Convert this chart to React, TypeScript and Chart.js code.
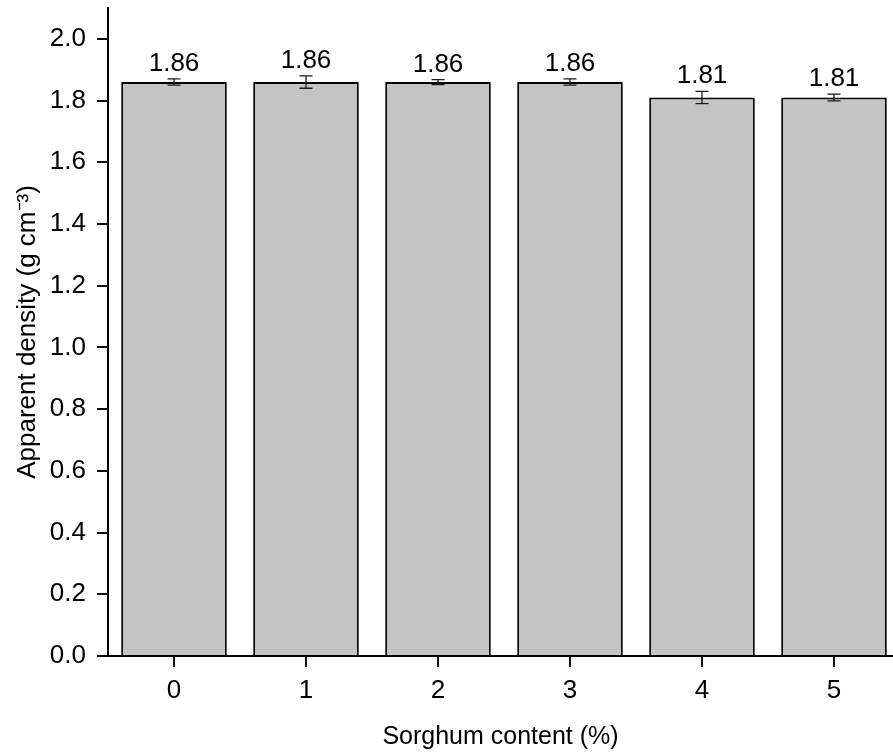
import React, { useEffect, useRef } from "react";
import { Chart, registerables } from "chart.js";

Chart.register(...registerables);

const categories = [0, 1, 2, 3, 4, 5];
const densities = [1.86, 1.86, 1.86, 1.86, 1.81, 1.81];
const errors = [0.01, 0.02, 0.008, 0.01, 0.02, 0.011];
const valueLabels = ["1.86", "1.86", "1.86", "1.86", "1.81", "1.81"];
const yTickValues = [0, 0.2, 0.4, 0.6, 0.8, 1.0, 1.2, 1.4, 1.6, 1.8, 2.0];
const xTitle = "Sorghum content (%)";
const yTitle = "Apparent density (g cm\u207B\u00B3)";

const FONT = '"Liberation Sans", Arial, sans-serif';
const FS = 26;

const errorBarPlugin = {
  id: "errorBars",
  afterDatasetsDraw(chart: any) {
    const meta = chart.getDatasetMeta(0);
    const y = chart.scales.y;
    const ctx = chart.ctx;
    ctx.save();
    meta.data.forEach((bar: any, i: number) => {
      const x = bar.x;
      const top = y.getPixelForValue(densities[i] + errors[i]);
      const bot = y.getPixelForValue(densities[i] - errors[i]);
      ctx.strokeStyle = "#1a1a1a";
      ctx.lineWidth = 1.3;
      ctx.beginPath();
      ctx.moveTo(x, top);
      ctx.lineTo(x, bot);
      ctx.moveTo(x - 6.5, top);
      ctx.lineTo(x + 6.5, top);
      ctx.moveTo(x - 6.5, bot);
      ctx.lineTo(x + 6.5, bot);
      ctx.stroke();
      ctx.font = `${FS}px ${FONT}`;
      ctx.fillStyle = "#000";
      ctx.textAlign = "center";
      ctx.textBaseline = "alphabetic";
      ctx.fillText(valueLabels[i], x, top - 8);
    });
    ctx.restore();
  },
};

export default function App() {
  const canvasRef = useRef<HTMLCanvasElement | null>(null);

  useEffect(() => {
    if (!canvasRef.current) return;
    const chart = new Chart(canvasRef.current, {
      type: "bar",
      data: {
        datasets: [
          {
            data: categories.map((c, i) => ({ x: c, y: densities[i] })),
            backgroundColor: "#c4c4c4",
            borderColor: "#000",
            borderWidth: 2,
            barPercentage: 0.8,
            categoryPercentage: 1,
          },
        ],
      },
      options: {
        animation: false,
        responsive: false,
        maintainAspectRatio: false,
        layout: { padding: { top: 8, right: 0, left: 0, bottom: 0 } },
        plugins: {
          legend: { display: false },
          tooltip: { enabled: false },
        },
        scales: {
          x: {
            type: "linear",
            offset: false,
            min: -0.5,
            max: 5.447,
            afterBuildTicks: (scale: any) => {
              scale.ticks = categories.map((v) => ({ value: v }));
            },
            afterFit: (scale: any) => {
              scale.height = 98;
              scale.paddingLeft = 0;
              scale.paddingRight = 0;
            },
            ticks: {
              color: "#000",
              font: { family: FONT, size: FS },
              padding: 8,
              callback: (v: any) => String(v),
              maxRotation: 0,
              autoSkip: false,
            },
            grid: {
              display: true,
              offset: false,
              drawOnChartArea: false,
              drawTicks: true,
              tickLength: 11,
              color: "#000",
              lineWidth: 2,
            },
            border: { display: true, color: "#000", width: 2 },
            title: {
              display: true,
              text: xTitle,
              color: "#000",
              font: { family: FONT, size: 25 },
              padding: { top: 0, bottom: 2 },
            },
          },
          y: {
            type: "linear",
            min: 0,
            max: 2.1,
            afterBuildTicks: (scale: any) => {
              scale.ticks = yTickValues.map((v) => ({ value: v }));
            },
            afterFit: (scale: any) => {
              scale.width = 108;
              scale.paddingTop = 0;
              scale.paddingBottom = 0;
            },
            ticks: {
              color: "#000",
              font: { family: FONT, size: FS },
              padding: 11,
              callback: (v: any) => Number(v).toFixed(1),
              autoSkip: false,
            },
            grid: {
              display: true,
              drawOnChartArea: false,
              drawTicks: true,
              tickLength: 11,
              color: "#000",
              lineWidth: 2,
            },
            border: { display: true, color: "#000", width: 2 },
            title: {
              display: true,
              text: yTitle,
              color: "#000",
              font: { family: FONT, size: FS },
              padding: { top: 12, bottom: 0 },
            },
          },
        },
      },
      plugins: [errorBarPlugin],
    });
    return () => chart.destroy();
  }, []);

  return (
    <div
      style={{
        position: "absolute",
        left: 0,
        top: 0,
        width: 893,
        height: 754,
        background: "#fff",
      }}
    >
      <canvas ref={canvasRef} width={893} height={754} style={{ display: "block" }} />
    </div>
  );
}
